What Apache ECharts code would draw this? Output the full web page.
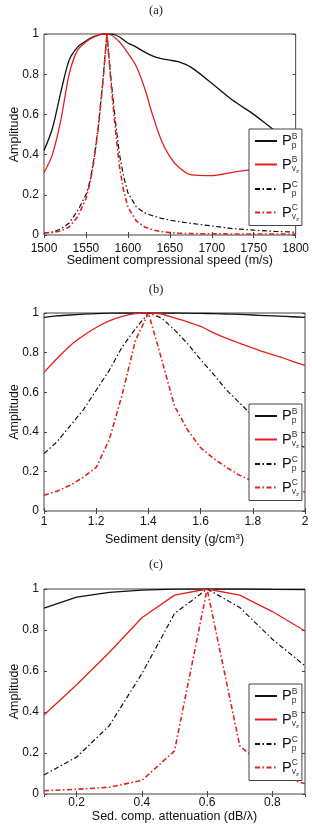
<!DOCTYPE html>
<html>
<head>
<meta charset="utf-8">
<script src="https://cdn.jsdelivr.net/npm/echarts@6/dist/echarts.min.js"></script>
<style>
  html, body { margin: 0; padding: 0; background: #fff; }
  #main { width: 312px; height: 825px; }
</style>
</head>
<body>
<div id="main"></div>
<script>
// (a) sediment compressional speed
var speedA = [1500, 1510, 1520, 1530, 1540, 1550, 1555, 1560, 1565, 1570, 1575, 1580, 1585, 1590, 1595, 1600, 1610, 1620, 1630, 1640, 1650, 1660, 1675, 1700, 1725, 1750, 1775, 1800];
var pbpA = [0.42, 0.53, 0.71, 0.87, 0.935, 0.965, 0.978, 0.988, 0.995, 1.0, 1.0, 1.0, 0.995, 0.985, 0.97, 0.955, 0.935, 0.91, 0.89, 0.877, 0.87, 0.862, 0.835, 0.755, 0.67, 0.60, 0.52, 0.455];
var pbvA = [0.31, 0.40, 0.57, 0.80, 0.92, 0.96, 0.975, 0.986, 0.995, 1.0, 1.0, 0.995, 0.98, 0.96, 0.935, 0.905, 0.84, 0.73, 0.59, 0.47, 0.39, 0.34, 0.30, 0.295, 0.312, 0.325, 0.328, 0.325];
var pcpA = [0.01, 0.015, 0.03, 0.06, 0.12, 0.20, 0.27, 0.39, 0.55, 0.76, 1.0, 0.77, 0.57, 0.40, 0.29, 0.21, 0.14, 0.11, 0.095, 0.083, 0.074, 0.067, 0.058, 0.045, 0.032, 0.024, 0.018, 0.014];
var pcvA = [0.01, 0.012, 0.02, 0.04, 0.09, 0.18, 0.26, 0.38, 0.54, 0.75, 1.0, 0.75, 0.53, 0.34, 0.22, 0.14, 0.07, 0.04, 0.025, 0.017, 0.012, 0.009, 0.007, 0.006, 0.005, 0.005, 0.005, 0.005];

// (b) sediment density
var densB = [1.0, 1.05, 1.1, 1.15, 1.2, 1.25, 1.3, 1.35, 1.4, 1.45, 1.5, 1.55, 1.6, 1.65, 1.7, 1.75, 1.8, 1.85, 1.9, 1.95, 2.0];
var pbpB = [0.978, 0.985, 0.99, 0.994, 0.997, 0.999, 1.0, 1.0, 1.0, 1.0, 1.0, 0.999, 0.998, 0.997, 0.995, 0.993, 0.99, 0.987, 0.984, 0.981, 0.978];
var pbvB = [0.70, 0.77, 0.835, 0.885, 0.927, 0.96, 0.983, 0.997, 1.0, 0.995, 0.975, 0.955, 0.932, 0.90, 0.872, 0.847, 0.823, 0.80, 0.78, 0.757, 0.735];
var pcpB = [0.29, 0.35, 0.43, 0.51, 0.61, 0.71, 0.83, 0.92, 1.0, 0.975, 0.915, 0.845, 0.765, 0.69, 0.61, 0.545, 0.48, 0.43, 0.385, 0.35, 0.32];
var pcvB = [0.08, 0.10, 0.13, 0.17, 0.22, 0.36, 0.59, 0.86, 1.0, 0.77, 0.53, 0.41, 0.32, 0.265, 0.22, 0.18, 0.15, 0.13, 0.115, 0.105, 0.096];

// (c) sediment compressional attenuation
var attC = [0.1, 0.2, 0.3, 0.4, 0.5, 0.6, 0.7, 0.8, 0.9];
var pbpC = [0.907, 0.96, 0.984, 0.995, 0.999, 1.0, 1.0, 0.998, 0.997];
var pbvC = [0.385, 0.533, 0.69, 0.86, 0.97, 1.0, 0.97, 0.89, 0.795];
var pcpC = [0.093, 0.18, 0.333, 0.587, 0.88, 1.0, 0.91, 0.755, 0.625];
var pcvC = [0.016, 0.023, 0.033, 0.066, 0.21, 1.0, 0.235, 0.10, 0.05];

var yTicks = [0, 0.2, 0.4, 0.6, 0.8, 1];
var seriesNames = ['PBp', 'PBv', 'PCp', 'PCv'];
var panelTitles = ['(a)', '(b)', '(c)'];
var xNames = ['Sediment compressional speed (m/s)', 'Sediment density (g/cm{sup|3})', 'Sed. comp. attenuation (dB/\u03bb)'];

var FONT = '"Liberation Sans", Arial, Helvetica, sans-serif';
var RED = '#e3211c';
var DASHDOT = [5, 2.5, 1.5, 2.5];

var panels = [
  { grid: { left: 41, top: 34, width: 264, height: 201 }, x: speedA, ys: [pbpA, pbvA, pcpA, pcvA], smooth: true,
    xmin: 1500, xmax: 1800, xint: 50, labelMargin: 8, nameGap: 19, title: -1, legendTop: 129 },
  { grid: { left: 41, top: 313, width: 264, height: 198 }, x: densB, ys: [pbpB, pbvB, pcpB, pcvB], smooth: true,
    xmin: 1, xmax: 2, xint: 0.2, labelMargin: 5, nameGap: 22, title: 278, legendTop: 404 },
  { grid: { left: 41, top: 589, width: 264, height: 205 }, x: attC, ys: [pbpC, pbvC, pcpC, pcvC], smooth: false,
    xmin: 0.1, xmax: 0.9, xint: null, labelMargin: 3, nameGap: 16, title: 553, legendTop: 684 }
];

var styles = [
  { color: '#111', type: 'solid', width: 1.3 },
  { color: RED, type: 'solid', width: 1.3 },
  { color: '#111', type: DASHDOT, width: 1.2 },
  { color: RED, type: DASHDOT, width: 1.6 }
];

function fmt(v) { return String(+(+v).toFixed(2)); }

var legendLabels = {
  PBp: '{P|P}{sup|B}{sub|p}',
  PBv: '{P|P}{sup|B}{sub|v}{subz|z}',
  PCp: '{P|P}{sup|C}{sub|p}',
  PCv: '{P|P}{sup|C}{sub|v}{subz|z}'
};

var option = {
  animation: false,
  backgroundColor: '#fff',
  title: [], grid: [], xAxis: [], yAxis: [], legend: [], series: []
};

panels.forEach(function (p, i) {
  option.title.push({
    text: panelTitles[i], left: 'center', top: p.title,
    textStyle: { fontFamily: '"Liberation Serif", "Times New Roman", serif', fontSize: 12.5, fontWeight: 'normal', color: '#222' }
  });
  option.grid.push(Object.assign({ show: true, borderColor: '#444', borderWidth: 1, backgroundColor: '#fff' }, p.grid));

  var xBottom = {
    type: 'value', gridIndex: i, min: p.xmin, max: p.xmax, position: 'bottom',
    name: xNames[i], nameLocation: 'middle', nameGap: p.nameGap, nameMoveOverlap: false,
    nameTextStyle: { fontFamily: FONT, fontSize: 12.5, color: '#111',
      rich: { sup: { fontFamily: FONT, fontSize: 8, verticalAlign: 'top', color: '#111' } } },
    axisLine: { show: false }, splitLine: { show: false },
    axisTick: { show: true, inside: true, length: 3, lineStyle: { color: '#444' } },
    axisLabel: { fontFamily: FONT, fontSize: 12, color: '#111', margin: p.labelMargin, formatter: fmt,
      showMinLabel: p.xint !== null, showMaxLabel: p.xint !== null }
  };
  if (p.xint !== null) xBottom.interval = p.xint;
  option.xAxis.push(xBottom);

  option.yAxis.push({
    type: 'value', gridIndex: i, min: 0, max: 1, interval: 0.2, position: 'left',
    name: 'Amplitude', nameLocation: 'middle', nameGap: 23, nameMoveOverlap: false,
    nameTextStyle: { fontFamily: FONT, fontSize: 12.5, color: '#111' },
    axisLine: { show: false }, splitLine: { show: false },
    axisTick: { show: true, inside: true, length: 3, lineStyle: { color: '#444' } },
    axisLabel: { fontFamily: FONT, fontSize: 12, color: '#111', margin: 5,
      formatter: function (v) { return yTicks.indexOf(+(+v).toFixed(2)) >= 0 ? fmt(v) : ''; } }
  });

  option.legend.push({
    orient: 'vertical', left: 249, top: p.legendTop,
    data: seriesNames, itemWidth: 22, itemHeight: 12, itemGap: 5.5,
    padding: [3, 3, 3, 5], backgroundColor: '#fff', borderColor: '#444', borderWidth: 1, borderRadius: 0,
    selectedMode: false,
    itemStyle: { opacity: 0 },
    formatter: function (name) { return legendLabels[name]; },
    textStyle: {
      rich: {
        P: { fontFamily: FONT, fontSize: 14.5, color: '#111', lineHeight: 20, verticalAlign: 'middle' },
        sup: { fontFamily: FONT, fontSize: 8.5, color: '#333', width: 0, verticalAlign: 'top', padding: [1, 0, 0, 0] },
        sub: { fontFamily: FONT, fontSize: 8.5, color: '#333', verticalAlign: 'bottom', padding: [0, 0, 1, 0] },
        subz: { fontFamily: FONT, fontSize: 6, color: '#333', verticalAlign: 'bottom' }
      }
    }
  });

  p.ys.forEach(function (ys, k) {
    // solid curves are smooth in the source; the dash-dot peaks are sharp cusps
    var smooth = p.smooth && k < 2 ? 0.3 : false;
    option.series.push({
      name: seriesNames[k], type: 'line', xAxisIndex: i, yAxisIndex: i,
      symbol: 'none', clip: true, z: 2, smooth: smooth,
      lineStyle: styles[k], itemStyle: { color: styles[k].color },
      data: p.x.map(function (xv, j) { return [xv, ys[j]]; })
    });
  });
});

// mirrored ticks on the top and right edges (box style)
panels.forEach(function (p, i) {
  var xTop = {
    type: 'value', gridIndex: i, min: p.xmin, max: p.xmax, position: 'top',
    axisLine: { show: false }, splitLine: { show: false }, axisLabel: { show: false },
    axisTick: { show: true, inside: true, length: 3, lineStyle: { color: '#444' } }
  };
  if (p.xint !== null) xTop.interval = p.xint;
  option.xAxis.push(xTop);
  option.yAxis.push({
    type: 'value', gridIndex: i, min: 0, max: 1, interval: 0.2, position: 'right',
    axisLine: { show: false }, splitLine: { show: false }, axisLabel: { show: false },
    axisTick: { show: true, inside: true, length: 3, lineStyle: { color: '#444' } }
  });
});

var chart = echarts.init(document.getElementById('main'), null, { renderer: 'canvas' });
chart.setOption(option);
</script>
</body>
</html>
